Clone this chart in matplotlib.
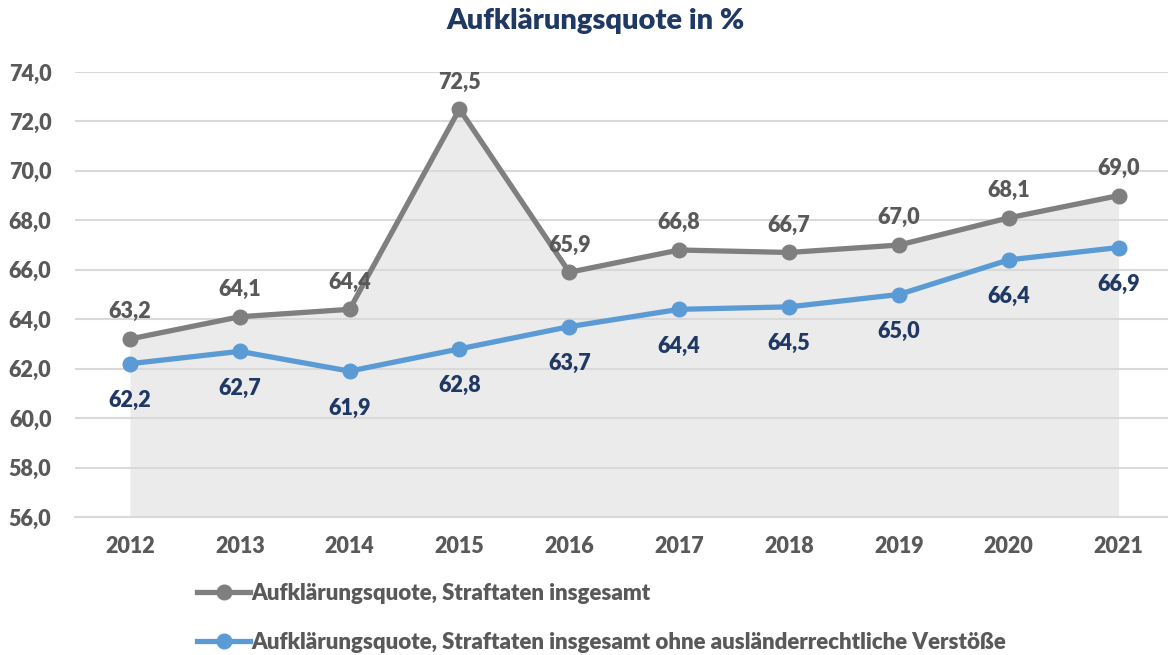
import matplotlib.pyplot as plt

years = ["2012", "2013", "2014", "2015", "2016", "2017", "2018", "2019", "2020", "2021"]
total = [63.2, 64.1, 64.4, 72.5, 65.9, 66.8, 66.7, 67.0, 68.1, 69.0]
without_foreign = [62.2, 62.7, 61.9, 62.8, 63.7, 64.4, 64.5, 65.0, 66.4, 66.9]
yticks = [56, 58, 60, 62, 64, 66, 68, 70, 72, 74]

label_total = "Aufklärungsquote, Straftaten insgesamt"
label_without = "Aufklärungsquote, Straftaten insgesamt ohne ausländerrechtliche Verstöße"

GRAY = "#7f7f7f"
BLUE = "#5b9bd5"
TEXT_GRAY = "#595959"
NAVY = "#1f3864"
W = "heavy"

plt.rcParams["font.family"] = ["Lato", "DejaVu Sans"]
plt.rcParams["font.weight"] = W

fig = plt.figure(figsize=(11.68, 6.55), dpi=100)
ax = fig.add_axes([75 / 1168, 1 - 517 / 655, 1 - 75 / 1168, (517 - 72) / 655])

x = list(range(len(years)))

# grey area under the total series
ax.fill_between(x, 56, total, color="#ebebeb", linewidth=0, zorder=1)

ax.plot(x, total, color=GRAY, lw=3.8, marker="o", ms=10.5, zorder=3, label=label_total)
ax.plot(x, without_foreign, color=BLUE, lw=3.8, marker="o", ms=10.5, zorder=3, label=label_without)

def fmt(v):
    return f"{v:.1f}".replace(".", ",")

for xi, v in zip(x, total):
    ax.annotate(fmt(v), (xi, v), xytext=(0, 12), textcoords="offset points",
                ha="center", va="bottom", fontsize=15.5, fontweight=W, color=TEXT_GRAY)
for xi, v in zip(x, without_foreign):
    ax.annotate(fmt(v), (xi, v), xytext=(0, -19), textcoords="offset points",
                ha="center", va="top", fontsize=15.5, fontweight=W, color=NAVY)

ax.set_xlim(-0.5, 9.45)
ax.set_ylim(56, 74)
ax.set_yticks(yticks)
ax.set_yticklabels([fmt(t) for t in yticks])
ax.set_xticks(x)
ax.set_xticklabels(years)
ax.tick_params(axis="both", length=0, labelsize=15.5, labelcolor=TEXT_GRAY)
ax.tick_params(axis="x", pad=14)
ax.tick_params(axis="y", pad=17)

ax.grid(axis="y", color="#d9d9d9", lw=1.5)
ax.set_axisbelow("line")
for s in ["top", "right", "left"]:
    ax.spines[s].set_visible(False)
ax.spines["bottom"].set_color("#d9d9d9")
ax.spines["bottom"].set_linewidth(1.5)

fig.text(596 / 1168, 1 - 21 / 655, "Aufklärungsquote in %", ha="center", va="center",
         fontsize=21, fontweight=W, color=NAVY)

leg = fig.legend(loc="upper left", bbox_to_anchor=(186 / 1168, 1 - 572 / 655),
                 frameon=False, fontsize=16, handlelength=2.4, handletextpad=0.05,
                 labelspacing=1.25, borderpad=0)
for t in leg.get_texts():
    t.set_color(TEXT_GRAY)

fig.savefig("out.png", dpi=100)
